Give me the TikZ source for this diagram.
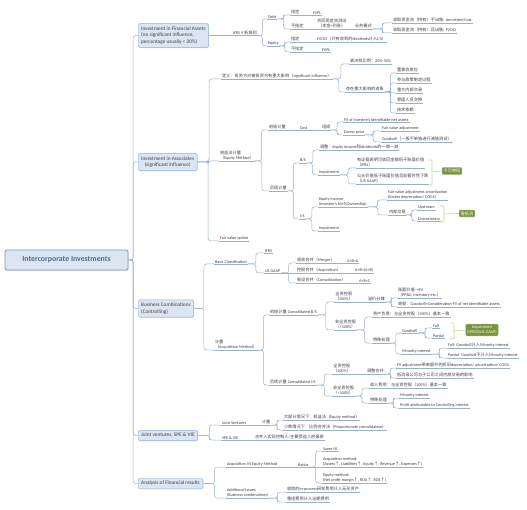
\documentclass[tikz,border=0pt]{standalone}
\usepackage{fontspec}
\setmainfont{Carlito}
\newfontfamily\cjkfont{Noto Sans CJK SC}
% Chinese characters switch to the CJK family automatically
\XeTeXinterchartokenstate=1
\newXeTeXintercharclass\cjkclass
\newcount\cjkcode
\def\setcjkrange#1#2{\cjkcode=#1 \loop\XeTeXcharclass\cjkcode=\cjkclass
  \ifnum\cjkcode<#2 \advance\cjkcode by 1 \repeat}
\setcjkrange{"2190}{"21FF}
\setcjkrange{"3000}{"303F}
\setcjkrange{"4E00}{"9FFF}
\setcjkrange{"FF00}{"FFEF}
\XeTeXinterchartoks 0 \cjkclass = {\begingroup\cjkfont}
\XeTeXinterchartoks 4095 \cjkclass = {\begingroup\cjkfont}
\XeTeXinterchartoks \cjkclass 0 = {\endgroup}
\XeTeXinterchartoks \cjkclass 4095 = {\endgroup}
\usepackage{xcolor}
\usetikzlibrary{calc,shadows}
\definecolor{txt}{HTML}{404040}
\definecolor{linkc}{HTML}{9AB0CC}
\definecolor{boxfill}{HTML}{DCE6F2}
\definecolor{boxline}{HTML}{95B3D7}
\definecolor{rootline}{HTML}{7B9CCB}
\definecolor{roottxt}{HTML}{4F6B8F}
\definecolor{notefill}{HTML}{77933C}
\definecolor{brkc}{HTML}{C3D69B}

\begin{document}
\begin{tikzpicture}[x=1pt, y=-1pt, font=\fontsize{4.2}{5.2}\selectfont, text=txt,
    lnk/.style={draw=linkc, line width=0.5pt},
    conn/.style={lnk, rounded corners=2.5pt,
      to path={-| ($(\tikztostart)!0.5!(\tikztotarget)$) |- (\tikztotarget)}},
    sub/.style={anchor=south west, inner xsep=0.8pt, inner ysep=0.7pt, align=left,
      append after command={\pgfextra{\draw[lnk] (\tikzlastnode.south west) -- (\tikzlastnode.south east);}}},
    topic/.style={draw=boxline, fill=boxfill, rounded corners=1.5pt, anchor=west, align=left,
      inner xsep=3pt, inner ysep=3pt, font=\fontsize{5.3}{6.6}\selectfont,
      drop shadow={shadow xshift=0.5pt, shadow yshift=-0.7pt, opacity=0.25}},
    central/.style={draw=rootline, fill=boxfill, line width=0.8pt, rounded corners=2pt,
      minimum width=123pt, minimum height=20pt, text=roottxt,
      font=\fontsize{7.8}{9}\selectfont\bfseries,
      drop shadow={shadow xshift=0.6pt, shadow yshift=-0.8pt, opacity=0.25}},
    note/.style={fill=notefill, draw=notefill!70!white, text=white, rounded corners=1pt,
      inner sep=1.5pt, align=center},
    brk/.style={draw=brkc, line width=0.6pt, rounded corners=1pt}]
    \fill[white] (0,0) rectangle (527,510);
    \useasboundingbox (0,0) rectangle (527,510);

    % root and main topics
    \node[central] (root) at (66.5,260) {Intercorporate Investments};
    \node[topic] (fa) at (138,35.5) {Investment in Financial Assets\\ (no significant influence,\\ percentage usually < 20\%)};
    \node[topic, align=center] (as) at (138,162) {Investment in Associates\\(significant influence)};
    \node[topic] (bc) at (138,308.5) {Business Combinations\\(Controlling)};
    \node[topic] (jv) at (138,435.5) {Joint ventures, SPE \& VIE};
    \node[topic] (an) at (138,483.5) {Analysis of Financial results};

    % financial assets
    \node[sub] (f9) at (232,35.5) {IFRS 9 新准则};
    \node[sub] (fdebt) at (267,19) {Debt};
    \node[sub] (fd1) at (290,15) {指定};
    \node[sub] (fd1v) at (312,15) {FVPL};
    \node[sub] (fd2) at (290,29) {不指定};
    \node[sub, align=center] (fsppi) at (316,29) {合同现金流测试\\（本金+利息）};
    \node[sub] (fbm) at (354,29) {业务模式};
    \node[sub] (fac) at (392,23) {收取现金流（持有）不出售: Amortized Cost};
    \node[sub] (ffv) at (392,33) {收取现金流（持有）且出售: FVOCI};
    \node[sub] (feq) at (267,46) {Equity};
    \node[sub] (fe1) at (290,42) {指定};
    \node[sub] (fe1v) at (316,42) {FVOCI（只有收到的dividends计入I/S）};
    \node[sub] (fe2) at (290,52) {不指定};
    \node[sub] (fe2v) at (321,52) {FVPL};

    % associates
    \node[sub] (adef) at (221,79) {定义：投资方对被投资方有重大影响（significant influence）};
    \node[sub] (aratio) at (349,64) {表决权比例：20\%-50\%};
    \node[sub] (aevid) at (345,92) {存在重大影响的迹象};
    \node[sub] (ae1) at (396,73) {董事会席位};
    \node[sub] (ae2) at (396,83) {参与政策制定过程};
    \node[sub] (ae3) at (396,93) {重大内部交易};
    \node[sub] (ae4) at (396,103) {管理人员交换};
    \node[sub] (ae5) at (396,113) {技术依赖};
    \node[sub] (aem) at (219,161) {权益法计量\\（Equity Method）};
    \node[sub] (ainit) at (268,130) {初始计量};
    \node[sub] (acost) at (299,130) {Cost};
    \node[sub] (acomp) at (321,130) {组成};
    \node[sub] (afv) at (343,122) {FV of investee's identifiable net assets};
    \node[sub] (aexc) at (343,135) {Excess price};
    \node[sub] (afva) at (381,131) {Fair value adjustment};
    \node[sub] (agw) at (381,142) {Goodwill（一般不单独进行减值测试）};
    \node[sub] (asub) at (269,191) {后续计量};
    \node[sub] (abs) at (299,163) {B/S};
    \node[sub] (aadj) at (319,150) {调整：Equity income和dividends的一增一减};
    \node[sub] (aimp1) at (318,175) {Impairment};
    \node[sub] (aifrs) at (356,168) {有证据表明可收回金额低于账面价值\\（IFRS）};
    \node[sub] (agaap) at (356,184) {公允价值低于账面价值且非暂时性下跌\\（US GAAP）};
    \node[note] (n1) at (452,171) {不可转回};
    \node[sub] (ais) at (299,219) {I/S};
    \node[sub] (aei) at (318,207) {Equity income\\(Investee's NI×\%Ownership)};
    \node[sub] (afvam) at (387,200) {Fair value adjustment amortization\\(Excess depreciation/ COGS)};
    \node[sub] (aintra) at (388,215) {内部交易};
    \node[sub] (aup) at (417,210) {Upstream};
    \node[sub] (adown) at (417,221) {Downstream};
    \node[note] (n2) at (467,213.5) {需抵消};
    \node[sub] (aimp2) at (318,231) {Impairment};
    \node[sub] (afvo) at (219,241) {Fair value option};

    % business combinations
    \node[sub] (bbasic) at (214,264) {Basic Classification};
    \node[sub] (bifrs) at (264,253) {IFRS};
    \node[sub] (bgaap) at (264,273) {US GAAP};
    \node[sub] (bm1) at (296,263) {吸收合并（Merger）};
    \node[sub] (bm1r) at (346,263) {A+B=A};
    \node[sub] (bm2) at (296,273) {控股合并（Acquisition）};
    \node[sub] (bm2r) at (354,273) {A+B=(A+B)};
    \node[sub] (bm3) at (296,283) {新设合并（Consolidation）};
    \node[sub] (bm3r) at (358,283) {A+B=C};
    \node[sub] (bmeas) at (214,350) {计量\\（Acquisition Method）};
    \node[sub] (binit) at (269,315) {初始计量 Consolidated B/S};
    \node[sub, align=center] (bw1) at (334,302) {全资控股\\（100\%）};
    \node[sub] (bex) at (367,302) {溢价分摊};
    \node[sub] (bfv) at (397,298) {账面价值→FV\\（PP\&E, Inventory etc.）};
    \node[sub] (bgw) at (397,307) {商誉：Goodwill=Consideration-FV of net identifiable assets};
    \node[sub, align=center] (bp1) at (334,330) {非全资控股\\（<100\%）};
    \node[sub] (bpa) at (372,317) {资产负债：与全资控股（100\%）基本一致};
    \node[sub] (bsp) at (372,343) {特殊处理};
    \node[sub] (bgood) at (401,333) {Goodwill};
    \node[sub] (bfull) at (432,328) {Full};
    \node[sub] (bpart) at (432,338) {Partial};
    \node[note] (n3) at (482,330) {Impairment\\(IFRS与US GAAP)};
    \node[sub] (bmi) at (401,354) {Minority interest};
    \node[sub] (bmif) at (447,348) {Full: Goodwill计入Minority interest};
    \node[sub] (bmip) at (447,358) {Partial: Goodwill不计入Minority interest};
    \node[sub] (bsub) at (269,385) {后续计量 Consolidated I/S};
    \node[sub, align=center] (bw2) at (332,374) {全资控股\\（100\%）};
    \node[sub] (badj) at (366,374) {调整合并};
    \node[sub] (bfva) at (396,368) {FV adjustment带来额外的折旧depreciation/ amortization/ COGS};
    \node[sub] (belim) at (396,378) {抵消母公司与子公司之间内部交易的影响};
    \node[sub, align=center] (bp2) at (332,396) {非全资控股\\（<100\%）};
    \node[sub] (bie) at (369,388) {收入费用：与全资控股（100\%）基本一致};
    \node[sub] (bsp2) at (369,403) {特殊处理};
    \node[sub] (bmi2) at (399,398) {Minority interest};
    \node[sub] (bpc) at (399,408) {Profit attributable to Controlling interest};

    % joint ventures
    \node[sub] (jjv) at (221,425) {Joint Ventures};
    \node[sub] (jm) at (261,425) {计量};
    \node[sub] (je1) at (283,420) {大部分情况下：权益法（Equity method）};
    \node[sub] (je2) at (283,430) {少数情况下：比例合并法（Proportionate consolidation）};
    \node[sub] (jspe) at (221,440) {SPE \& VIE};
    \node[sub] (jcons) at (254,440) {合并入实际控制人/主要受益人的报表};

    % analysis
    \node[sub] (rav) at (226,467) {Acquisition VS Equity Method};
    \node[sub] (rrat) at (297,467) {Ratios};
    \node[sub] (rni) at (322,451) {Same NI};
    \node[sub] (racq) at (322,467) {Acquisition method:\\ (Assets↑, Liabilities↑, Equity↑, Revenue↑, Expenses↑)};
    \node[sub] (requ) at (322,483) {Equity method:\\ (Net profit margin↑, ROA↑, ROE↑)};
    \node[sub] (radd) at (226,498) {Additional Issues\\(Business combinations)};
    \node[sub] (rrd) at (286,492) {收购的in-process研发费用计入无形资产};
    \node[sub] (rrs) at (286,502) {重组费用计入当期费用};

    % connectors
    \foreach \b in {fa,as,bc,jv,an}
      \draw[conn] (root.east) to (\b.west);
    \foreach \a/\b in {as/adef, as/aem, as/afvo, bc/bbasic, bc/bmeas, jv/jjv, jv/jspe, an/rav, an/radd}
      \draw[conn] (\a.east) to (\b.south west);
    \draw[lnk] (fa.east) -- (f9.south west);
    \foreach \a/\b in {f9/fdebt, f9/feq, fdebt/fd1, fdebt/fd2, fbm/fac, fbm/ffv, feq/fe1, feq/fe2,
        adef/aratio, adef/aevid, aevid/ae1, aevid/ae2, aevid/ae3, aevid/ae4, aevid/ae5,
        aem/ainit, aem/asub, acomp/afv, acomp/aexc, aexc/afva, aexc/agw, asub/abs, asub/ais,
        abs/aadj, abs/aimp1, aimp1/aifrs, aimp1/agaap, ais/aei, ais/aimp2, aei/afvam, aei/aintra,
        aintra/aup, aintra/adown,
        bbasic/bifrs, bbasic/bgaap, bgaap/bm1, bgaap/bm3, bmeas/binit, bmeas/bsub, binit/bw1, binit/bp1,
        bex/bfv, bex/bgw, bp1/bpa, bp1/bsp, bsp/bgood, bsp/bmi, bgood/bfull, bgood/bpart,
        bmi/bmif, bmi/bmip, bsub/bw2, bsub/bp2, badj/bfva, badj/belim, bp2/bie, bp2/bsp2,
        bsp2/bmi2, bsp2/bpc, jm/je1, jm/je2, rrat/rni, rrat/requ, radd/rrd, radd/rrs}
      \draw[conn] (\a.south east) to (\b.south west);
    \foreach \a/\b in {fd1/fd1v, fd2/fsppi, fsppi/fbm, fe1/fe1v, fe2/fe2v, ainit/acost, acost/acomp,
        bm1/bm1r, bm2/bm2r, bm3/bm3r, bgaap/bm2, bw1/bex, bw2/badj, jjv/jm, jspe/jcons,
        rav/rrat, rrat/racq}
      \draw[lnk] (\a.south east) -- (\b.south west);

    % summary brackets
    \draw[brk] (428,160) -| (432,185) -- (428,185);
    \draw[brk] (432,172) -- (n1.west);
    \draw[brk] (440,206) -| (444,222) -- (440,222);
    \draw[brk] (444,214) -- (n2.west);
    \draw[brk] (450,323) -| (454,339) -- (450,339);
    \draw[brk] (454,331) -- (n3.west);
\end{tikzpicture}
\end{document}
